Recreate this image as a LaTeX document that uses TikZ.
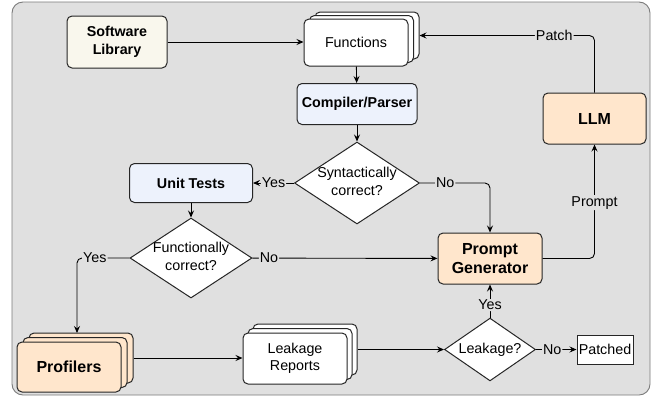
\documentclass[tikz,border=0pt]{standalone}
\usepackage{fontspec}
\setmainfont{Liberation Sans}
\usetikzlibrary{shapes.geometric,arrows.meta,calc}
\definecolor{bgc}{HTML}{E0E0E0}
\definecolor{bgline}{HTML}{7A7A7A}
\definecolor{cream}{HTML}{F9F7ED}
\definecolor{lblue}{HTML}{EDF2FC}
\definecolor{peach}{HTML}{FFE6CC}
\newcommand\fsn{\fontsize{14.3}{17.5}\selectfont}
\newcommand\fsb{\fontsize{14.3}{18}\selectfont\bfseries}
\newcommand\fbig{\fontsize{16}{19}\selectfont\bfseries}
\newcommand\dtext[1]{\smash{\raisebox{-3.6pt}{\begin{tabular}[c]{@{}c@{}}#1\end{tabular}}}}
\tikzset{
  box/.style={draw=black!85, line width=1pt, rounded corners=5pt, inner sep=0pt, align=center, font=\fsn},
  dbox/.style={draw=black!85, line width=1pt, inner sep=0pt, align=center, font=\fsn, diamond, fill=white},
  arr/.style={draw=black, line width=0.9pt, -{Stealth[length=7pt,width=6pt,inset=2.5pt]}, rounded corners=5pt},
  lab/.style={fill=bgc, inner sep=1pt, font=\fsn},
}
\begin{document}
\begin{tikzpicture}[x=1pt,y=-1pt]
\useasboundingbox (0,0) rectangle (652,397);
\draw[draw=bgline, fill=bgc, line width=0.9pt, rounded corners=11pt] (12,2) rectangle (650,395);

% Software library
\node[box, fill=cream, font=\fsb, minimum width=100, minimum height=52] (sl) at (117,42) {Software\\Library};
% Functions stack
\node[box, fill=white, minimum width=104, minimum height=47] (fun3) at (367,35.5) {};
\node[box, fill=white, minimum width=104, minimum height=47] (fun2) at (361.5,39) {};
\node[box, fill=white, minimum width=104, minimum height=47] (fun) at (356,42.5) {Functions};
% Compiler
\node[box, fill=lblue, font=\fsb, minimum width=120, minimum height=41] (cp) at (357,104) {Compiler/Parser};
% Syntactically correct
\node[dbox, minimum width=125, minimum height=82] (synt) at (357,183) {\dtext{Syntactically\\correct?}};
% Unit tests
\node[box, fill=lblue, font=\fsb, minimum width=123, minimum height=39] (ut) at (191,183) {Unit Tests};
% Functionally correct
\node[dbox, minimum width=122, minimum height=80] (fc) at (191,258) {\dtext{Functionally\\correct?}};
% Prompt generator
\node[box, fill=peach, font=\fbig, minimum width=104, minimum height=51] (pg) at (490,258.5) {Prompt\\Generator};
% LLM
\node[box, fill=peach, font=\fbig, minimum width=103, minimum height=51] (llm) at (594.5,118.5) {LLM};
% Profilers stack
\node[box, fill=peach, minimum width=104, minimum height=50] (prof3) at (81,358) {};
\node[box, fill=peach, minimum width=104, minimum height=50] (prof2) at (75,362.5) {};
\node[box, fill=peach, font=\fbig, minimum width=104, minimum height=50] (prof) at (69,367) {Profilers};
% Leakage reports stack
\node[box, fill=white, minimum width=104, minimum height=51] (lr3) at (305,349.5) {};
\node[box, fill=white, minimum width=104, minimum height=51] (lr2) at (300,354) {};
\node[box, fill=white, minimum width=104, minimum height=51] (lr) at (295,358.5) {Leakage\\Reports};
% Leakage?
\node[dbox, minimum width=91, minimum height=57] (leak) at (490,349.5) {\dtext{Leakage?}};
% Patched
\node[draw=black!85, line width=1pt, fill=white, inner sep=0pt, font=\fsn, minimum width=56, minimum height=29] (pat) at (605,349.5) {Patched};

\coordinate (yc) at (77,333);

% connectors
\draw[arr] (sl.east) -- (fun.west |- sl.east);
\draw[arr] (fun) -- (cp);
\draw[arr] (cp) -- (synt);
\draw[arr] (synt) -- node[lab]{Yes} (ut);
\draw[arr] (synt.east) -| node[lab, pos=0.18]{No} (pg.north);
\draw[arr] (ut) -- (fc);
\draw[arr] (fc) -- node[lab, pos=0.09]{No} (pg);
\draw[arr] (fc.west) -| node[lab, pos=0.33]{Yes} (yc);
\draw[arr] (prof3.east) -- (lr.west |- prof3.east);
\draw[arr] (lr3.east) -- (leak.west);
\draw[arr] (leak) -- node[lab, pos=0.38]{Yes} (pg);
\draw[arr] (leak) -- node[lab, pos=0.4]{No} (pat);
\draw[arr] (pg.east) -| node[lab, pos=0.745]{Prompt} (llm.south);
\draw[arr] (llm.north) |- node[lab, pos=0.615]{Patch} (fun3.east);
\end{tikzpicture}
\end{document}
